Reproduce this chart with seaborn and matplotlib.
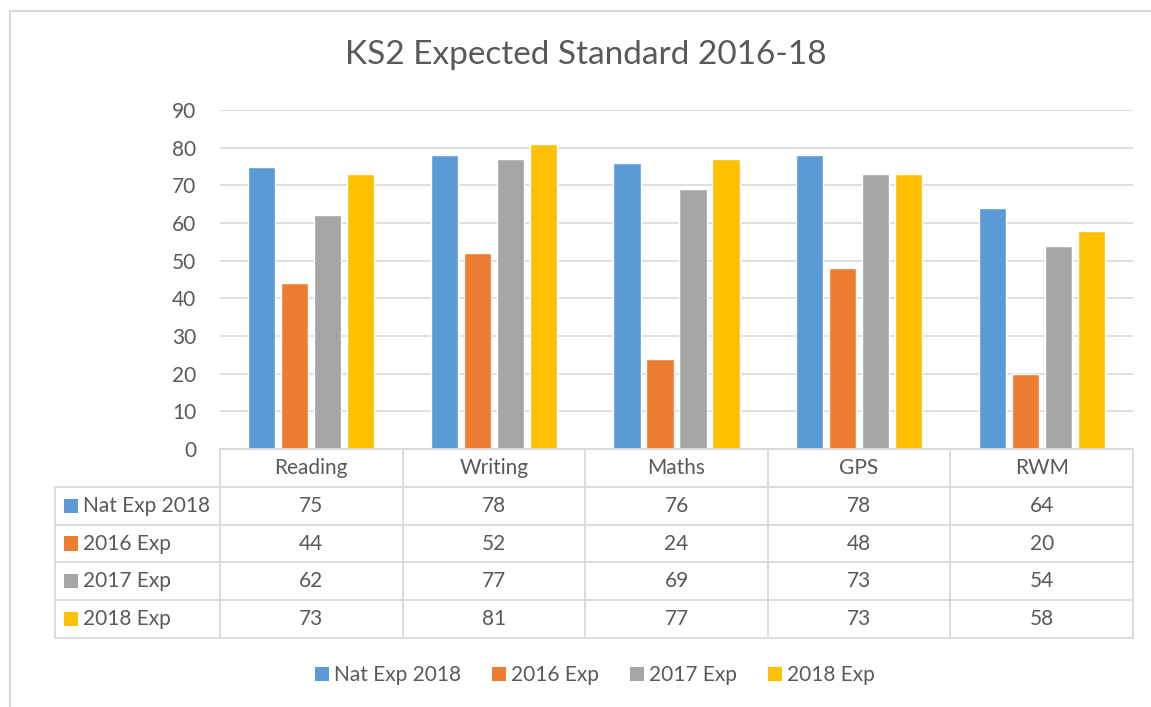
import numpy as np
import pandas as pd
import seaborn as sns
import matplotlib.pyplot as plt
from matplotlib.patches import Rectangle

categories = ["Reading", "Writing", "Maths", "GPS", "RWM"]
series_names = ["Nat Exp 2018", "2016 Exp", "2017 Exp", "2018 Exp"]
nat_exp_2018 = [75, 78, 76, 78, 64]
exp_2016 = [44, 52, 24, 48, 20]
exp_2017 = [62, 77, 69, 73, 54]
exp_2018 = [73, 81, 77, 73, 58]
y_ticks = [0, 10, 20, 30, 40, 50, 60, 70, 80, 90]

colors = ["#5B9BD5", "#ED7D31", "#A5A5A5", "#FFC000"]
grid_col = "#D9D9D9"
text_col = "#595959"

W, H = 1151, 707
fs = 15

sns.set_theme(style="white")
plt.rcParams['font.family'] = ['Lato', 'DejaVu Sans']

series_vals = [nat_exp_2018, exp_2016, exp_2017, exp_2018]
df = pd.DataFrame({
    "category": categories * len(series_names),
    "series": [s for s in series_names for _ in categories],
    "value": [v for vals in series_vals for v in vals],
})

fig = plt.figure(figsize=(W / 100, H / 100), dpi=100)

# outer chart frame (runs off the right/bottom edge)
fig.patches.append(Rectangle((10 / W, -0.1), 1.2, 1 - 11 / H + 0.1,
                             transform=fig.transFigure, fill=False,
                             edgecolor=grid_col, linewidth=1.5))

# plot area in pixel coords
x0, x1 = 220, 1133
y_top, y_zero = 110, 449
ax = fig.add_axes([x0 / W, 1 - y_zero / H, (x1 - x0) / W, (y_zero - y_top) / H])

sns.barplot(data=df, x="category", y="value", hue="series", order=categories,
            hue_order=series_names, palette=colors, width=0.723, gap=0.18,
            saturation=1, ax=ax, legend=False)

ax.set_xlim(-0.5, 4.5)
ax.set_ylim(0, 90)
ax.set_yticks(y_ticks)
ax.set_yticklabels([str(t) for t in y_ticks], fontsize=fs, color=text_col)
ax.tick_params(axis="y", length=0, pad=17)
ax.set_xticks([])
ax.set_xlabel("")
ax.set_ylabel("")
ax.grid(axis="y", color=grid_col, linewidth=1.2)
ax.set_axisbelow(True)
for side in ["left", "right", "top", "bottom"]:
    ax.spines[side].set_visible(False)

fig.text(586 / W, 1 - 55 / H, "KS2 Expected Standard 2016-18",
         ha="center", va="center", fontsize=24, color=text_col)

# data table under the axis
unit = (x1 - x0) / 5.0
tx0, ty1 = 55, 638
tax = fig.add_axes([tx0 / W, 1 - ty1 / H, (x1 - tx0) / W, (ty1 - y_zero) / H])
left_lim = -0.5 - (x0 - tx0) / unit
tax.set_xlim(left_lim, 4.5)
tax.set_ylim(5, 0)
tax.axis("off")

lw = 1.3
# horizontal lines
tax.plot([-0.5, 4.5], [0, 0], color=grid_col, lw=lw, clip_on=False)
for r in range(1, 6):
    tax.plot([left_lim, 4.5], [r, r], color=grid_col, lw=lw, clip_on=False)
# vertical lines
for c in range(6):
    tax.plot([c - 0.5, c - 0.5], [0, 5], color=grid_col, lw=lw, clip_on=False)
tax.plot([left_lim, left_lim], [1, 5], color=grid_col, lw=lw, clip_on=False)

for i, cat in enumerate(categories):
    tax.text(i, 0.5, cat, ha="center", va="center", fontsize=fs, color=text_col)

sq = 14 / unit
for r, (name, vals, col) in enumerate(zip(series_names, series_vals, colors), start=1):
    tax.add_patch(Rectangle((left_lim + 9 / unit, r + 0.5 - 0.19), sq, 0.38,
                            facecolor=col, edgecolor="none", clip_on=False))
    tax.text(left_lim + 28 / unit, r + 0.5, name, ha="left", va="center",
             fontsize=fs, color=text_col)
    for i, v in enumerate(vals):
        tax.text(i, r + 0.5, str(v), ha="center", va="center", fontsize=fs,
                 color=text_col)

# legend at the bottom
handles = [Rectangle((0, 0), 1, 1, facecolor=c, edgecolor="none") for c in colors]
fig.legend(handles, series_names, loc="center", bbox_to_anchor=(595 / W, 1 - 675 / H),
           ncol=4, frameon=False, fontsize=fs, handlelength=0.65, handleheight=0.65,
           handletextpad=0.25, columnspacing=1.5, labelcolor=text_col)

fig.savefig("out.png", dpi=100)
